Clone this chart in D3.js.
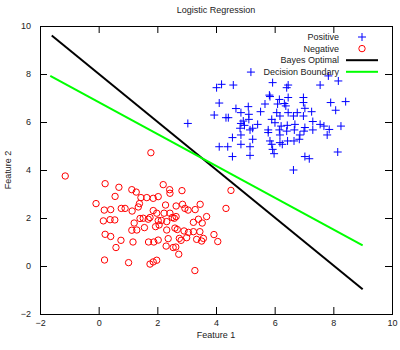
<!DOCTYPE html>
<html lang="en">
<head>
<meta charset="UTF-8">
<title>Logistic Regression</title>
<script src="https://d3js.org/d3.v7.min.js"></script>
<style>
  body { margin: 0; background: #fff; }
  text { font-family: "Liberation Sans", Arial, sans-serif; font-size: 9px; fill: #222; }
</style>
</head>
<body>
<div class="chart"></div>
<script>
  // positive class (blue +)
  const posX = [5.19,4.02,4.19,4.59,5.93,6.46,6.41,7.55,8.17,5.82,5.84,6.16,6.46,6.98,4.11,5.67,6.10,6.33,6.38,6.98,
    7.91,8.42,4.68,5.10,4.85,5.12,5.52,6.07,6.46,6.77,7.03,7.26,8.08,3.94,4.34,4.42,4.93,5.12,5.90,6.18,
    6.64,6.98,3.04,4.85,4.97,5.42,6.01,6.22,6.43,6.69,7.03,7.30,7.55,7.68,8.26,4.82,5.16,5.25,5.78,6.16,
    6.41,6.67,7.00,7.30,7.86,7.79,4.85,5.78,6.18,4.56,5.25,5.84,6.18,6.44,6.66,6.84,6.86,4.11,4.40,4.85,
    5.16,5.90,5.93,5.98,6.26,8.15,4.56,5.16,7.03,7.18,6.64,7.83];
  const posY = [8.08,7.43,7.57,7.54,7.64,7.54,7.43,7.54,7.71,7.12,7.06,6.94,7.02,7.02,6.79,6.75,6.75,6.77,6.67,6.81,
    6.81,6.85,6.56,6.64,6.39,6.32,6.43,6.39,6.39,6.39,6.57,6.43,6.49,6.29,6.18,6.18,6.04,6.11,6.11,6.25,
    6.25,6.25,5.94,5.94,5.86,5.90,5.97,5.83,5.86,5.90,5.77,6.02,5.90,5.83,5.83,5.74,5.67,5.74,5.67,5.67,
    5.62,5.67,5.62,5.67,5.69,5.46,5.46,5.56,5.46,5.35,5.28,5.21,5.14,5.21,5.21,5.28,5.46,4.97,4.97,5.07,
    4.97,5.07,4.86,4.68,5.07,4.75,4.56,4.61,4.56,4.47,4.00,7.92];

  // negative class (red o)
  const negX = [1.78,-1.14,0.22,0.69,1.13,1.28,2.20,2.42,2.43,2.84,0.56,1.44,1.64,1.86,2.03,-0.09,0.19,0.41,0.77,0.90,
    1.14,1.35,1.39,2.28,2.64,2.86,2.94,3.05,3.46,3.29,1.86,1.75,1.98,2.23,2.43,2.51,2.64,0.16,0.39,0.55,
    1.21,1.41,1.52,1.69,2.03,2.14,2.32,2.58,3.23,3.40,3.53,3.68,1.30,1.13,1.56,1.94,2.06,2.32,2.60,2.68,
    2.91,3.06,3.23,3.45,0.22,0.41,0.76,1.17,1.70,1.88,2.03,2.37,2.75,2.81,3.00,3.34,3.51,3.57,3.93,4.06,
    0.59,2.30,2.54,2.63,2.73,0.20,1.02,1.75,1.86,1.98,3.28,4.51,4.34];
  const negY = [4.72,3.75,3.43,3.28,3.18,3.08,3.39,3.18,3.03,3.14,2.90,2.85,2.85,2.82,2.89,2.60,2.33,2.35,2.40,2.40,
    2.29,2.46,2.60,2.54,2.50,2.57,2.40,2.33,2.57,2.35,2.31,2.02,2.20,2.20,2.20,2.02,2.06,1.88,1.93,1.92,
    1.79,1.98,1.99,1.95,1.89,1.90,1.85,1.99,1.82,1.95,1.79,2.06,1.50,1.49,1.60,1.64,1.71,1.50,1.58,1.52,
    1.46,1.40,1.43,1.43,1.32,1.23,1.07,1.00,1.00,1.00,1.08,1.14,1.15,1.07,1.18,1.11,1.04,1.15,1.31,1.02,
    0.77,0.83,0.77,0.79,0.49,0.25,0.14,0.08,0.17,0.24,-0.19,3.15,2.40];

  // lines (end points)
  const bayesX = [-1.6, 9.0];
  const bayesY = [9.6, -0.97];
  const boundX = [-1.65, 9.0];
  const boundY = [7.92, 0.86];

  const ticks = [-2, 0, 2, 4, 6, 8, 10];
  const legendLabels = ['Positive', 'Negative', 'Bayes Optimal', 'Decision Boundary'];

  const bx = {w: 400, h: 350};
  const margin = {top: 26, right: 8, bottom: 36, left: 40};
  const width = bx.w - margin.left - margin.right;
  const height = bx.h - margin.top - margin.bottom;

  const svg = d3.select('.chart').append('svg')
    .attr('width', bx.w).attr('height', bx.h);
  const g = svg.append('g').attr('transform', `translate(${margin.left} ${margin.top})`);

  const x = d3.scaleLinear().domain([-2, 10]).range([0, width]);
  const y = d3.scaleLinear().domain([-2, 10]).range([height, 0]);

  // axes with inward ticks, mirrored on top/right
  const tk = 7;
  const styleAxis = sel => {
    sel.select('.domain').remove();
    sel.selectAll('.tick line').attr('stroke', '#000');
    sel.selectAll('.tick text').style('font-size', '9px').style('font-family', '"Liberation Sans", Arial, sans-serif').attr('fill', '#222');
  };
  g.append('g').attr('transform', `translate(0 ${height})`)
    .call(d3.axisBottom(x).tickValues(ticks).tickSize(-tk).tickPadding(6).tickFormat(d3.format('d')))
    .call(styleAxis);
  g.append('g')
    .call(d3.axisTop(x).tickValues(ticks.slice(1, -1)).tickSize(-tk).tickFormat(''))
    .call(styleAxis);
  g.append('g')
    .call(d3.axisLeft(y).tickValues(ticks).tickSize(-tk).tickPadding(9).tickFormat(d3.format('d')))
    .call(styleAxis);
  g.append('g').attr('transform', `translate(${width} 0)`)
    .call(d3.axisRight(y).tickValues(ticks.slice(1, -1)).tickSize(-tk).tickFormat(''))
    .call(styleAxis);
  g.selectAll('.tick').filter(d => d === -2 || d === 10).select('line').remove();

  g.append('rect').attr('x', 0.5).attr('y', 0.5).attr('width', width).attr('height', height)
    .attr('fill', 'none').attr('stroke', '#000').attr('stroke-width', 1);

  // lines
  const line = d3.line().x(d => x(d[0])).y(d => y(d[1]));
  g.append('path').datum(d3.zip(bayesX, bayesY)).attr('d', line)
    .attr('stroke', '#000').attr('stroke-width', 2).attr('fill', 'none');
  g.append('path').datum(d3.zip(boundX, boundY)).attr('d', line)
    .attr('stroke', '#00ff00').attr('stroke-width', 2).attr('fill', 'none');

  // points
  const ps = 4;
  g.selectAll('.pos').data(d3.zip(posX, posY)).enter().append('path')
    .attr('class', 'pos')
    .attr('d', d => `M${x(d[0]) - ps},${y(d[1])}h${2 * ps}M${x(d[0])},${y(d[1]) - ps}v${2 * ps}`)
    .attr('stroke', '#0000ff').attr('stroke-width', 1).attr('fill', 'none');
  g.selectAll('.neg').data(d3.zip(negX, negY)).enter().append('circle')
    .attr('class', 'neg')
    .attr('cx', d => x(d[0])).attr('cy', d => y(d[1])).attr('r', 3.2)
    .attr('stroke', '#ff0000').attr('stroke-width', 1).attr('fill', 'none');

  // legend
  const lg = svg.append('g').attr('transform', 'translate(339 37)');
  legendLabels.forEach((t, i) => {
    const row = lg.append('g').attr('transform', `translate(0 ${i * 11.6})`);
    row.append('text').attr('text-anchor', 'end').attr('dy', '0.35em').text(t);
    if (i === 0) {
      row.append('path').attr('d', `M${23 - ps},0h${2 * ps}M23,${-ps}v${2 * ps}`)
        .attr('stroke', '#0000ff').attr('fill', 'none');
    } else if (i === 1) {
      row.append('circle').attr('cx', 23).attr('cy', 0).attr('r', 3.2)
        .attr('stroke', '#ff0000').attr('fill', 'none');
    } else {
      row.append('line').attr('x1', 7).attr('x2', 39).attr('y1', 0).attr('y2', 0)
        .attr('stroke', i === 2 ? '#000' : '#00ff00').attr('stroke-width', 2);
    }
  });

  // titles
  svg.append('text').attr('x', margin.left + width / 2).attr('y', 13)
    .attr('text-anchor', 'middle').text('Logistic Regression');
  svg.append('text').attr('x', margin.left + width / 2).attr('y', 338)
    .attr('text-anchor', 'middle').text('Feature 1');
  svg.append('text').attr('transform', `translate(11 ${margin.top + height / 2}) rotate(-90)`)
    .attr('text-anchor', 'middle').text('Feature 2');
</script>
</body>
</html>
